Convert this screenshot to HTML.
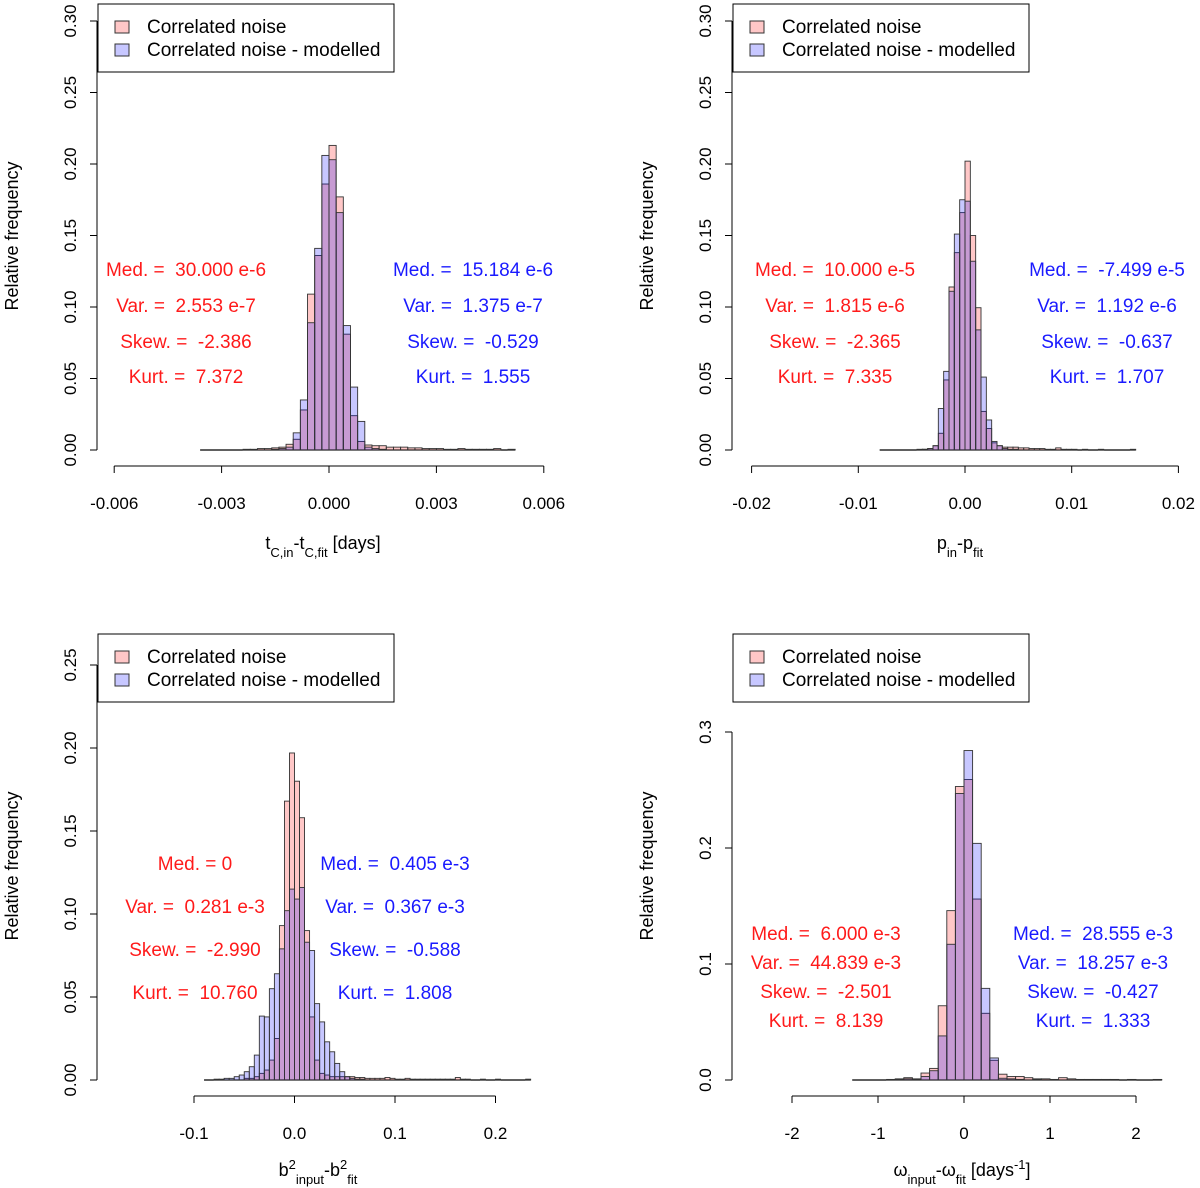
<!DOCTYPE html>
<html><head><meta charset="utf-8"><style>
body{margin:0;background:#fff}
svg{display:block;font-family:"Liberation Sans",Arial,sans-serif}
text{white-space:pre}
</style></head><body>
<svg id="chart" width="1200" height="1188" viewBox="0 0 1200 1188" xmlns="http://www.w3.org/2000/svg"></svg>
<script>
// ---------- data ----------
const p1Start = -0.0036, p1Width = 0.0002;
const p1Red  = [0,0,0,0,0,0,0.0005,0.0005,0.001,0.001,0.0015,0.002,
  0.004,0.0075,0.028,0.109,0.136,0.186,0.213,0.177,0.081,0.024,0.006,0.0035,
  0.003,0.003,0.002,0.002,0.002,0.0015,0.0015,0.001,0.001,0.001,0.0005,0.0005,0.001,0.0005,0.0005,0.0005,0.0005,0.001,0,0.0005];
const p1Blue = [0,0,0,0,0,0,0,0,0,0,0.0005,0.001,
  0.002,0.012,0.035,0.089,0.141,0.206,0.203,0.166,0.087,0.044,0.020,0.002,
  0.001,0.0005,0,0,0,0,0,0,0,0,0,0,0,0,0,0,0,0,0,0];
const p1XTicks = [-0.006,-0.003,0,0.003,0.006];
const p1XLabels = ["-0.006","-0.003","0.000","0.003","0.006"];
const p1YTicks = [0,0.05,0.10,0.15,0.20,0.25,0.30];
const p1YLabels = ["0.00","0.05","0.10","0.15","0.20","0.25","0.30"];

const p2Start = -0.008, p2Width = 0.0005;
const p2Red  = [0,0,0,0,0,0,0,0.0005,0.0005,0.001,
  0.003,0.0117,0.049,0.114,0.138,0.166,0.202,0.150,0.0995,0.027,0.015,0.005,0.003,
  0.002,0.002,0.002,0.0015,0.0015,0.001,0.001,0.001,0.0005,0.0005,0.0015,0.0005,0.0005,0.0005,0,0.0005,0,0,0.0005,0,0,0,0,0,0.0005];
const p2Blue = [0,0,0,0,0,0,0,0,0.0005,0.001,
  0.003,0.029,0.055,0.111,0.151,0.175,0.174,0.132,0.084,0.051,0.021,0.006,0.003,
  0.001,0.0005,0.0005,0,0,0,0,0,0,0,0,0,0,0,0,0,0,0,0,0,0,0,0,0,0];
const p2XTicks = [-0.02,-0.01,0,0.01,0.02];
const p2XLabels = ["-0.02","-0.01","0.00","0.01","0.02"];
const p2YTicks = p1YTicks;
const p2YLabels = p1YLabels;

const p3Start = -0.09, p3Width = 0.005;
const p3Red  = [0,0,0,0,0,0,
  0,0,0.001,0.001,0.002,0.004,0.006,0.012,0.025,0.093,0.168,0.197,0.180,0.158,0.090,0.038,0.012,0.004,0.003,0.002,0.002,0.002,
  0.002,0.002,0.0015,0.0015,0.001,0.001,0.001,0.001,0.0015,0.001,0.0005,0.0005,0.001,0.0005,0.0005,0.0005,0.0005,0.0005,0.0005,0.0005,0.0005,0.0005,0.0015,0.0005,0.0005,0,0,0.0005,0,0,0.0005,0,0,0,0,0,0.0005];
const p3Blue = [0,0,0.0005,0.0005,0.001,0.001,
  0.002,0.003,0.005,0.008,0.015,0.0385,0.038,0.055,0.064,0.079,0.102,0.115,0.109,0.116,0.083,0.078,0.046,0.035,0.023,0.017,0.010,0.005,
  0.002,0.001,0.0005,0.0005,0,0,0,0,0,0,0,0,0,0,0,0,0,0,0,0,0,0,0,0,0,0,0,0,0,0,0,0,0,0,0,0,0];
const p3XTicks = [-0.1,0,0.1,0.2];
const p3XLabels = ["-0.1","0.0","0.1","0.2"];
const p3YTicks = [0,0.05,0.10,0.15,0.20,0.25];
const p3YLabels = ["0.00","0.05","0.10","0.15","0.20","0.25"];

const p4Start = -1.3, p4Width = 0.1;
const p4Red  = [0,0,0,0,0.0005,0.001,0.002,0.001,
  0.006,0.010,0.064,0.146,0.253,0.259,0.156,0.0575,0.017,0.005,0.003,0.003,0.002,
  0.001,0.001,0.0005,0.002,0.001,0.0005,0.0005,0.0005,0.0005,0.0005,0,0.0005,0,0,0.0005];
const p4Blue = [0,0,0,0,0,0.0005,0.001,0.0005,
  0.003,0.008,0.038,0.117,0.247,0.284,0.204,0.079,0.019,0.0015,0.001,0.0005,0,
  0.0005,0,0,0,0,0,0,0,0,0,0,0,0,0,0];
const p4XTicks = [-2,-1,0,1,2];
const p4XLabels = ["-2","-1","0","1","2"];
const p4YTicks = [0,0.1,0.2,0.3];
const p4YLabels = ["0.0","0.1","0.2","0.3"];

const p1StatsRed = ["Med. =  30.000 e-6","Var. =  2.553 e-7","Skew. =  -2.386","Kurt. =  7.372"];
const p1StatsBlue = ["Med. =  15.184 e-6","Var. =  1.375 e-7","Skew. =  -0.529","Kurt. =  1.555"];
const p2StatsRed = ["Med. =  10.000 e-5","Var. =  1.815 e-6","Skew. =  -2.365","Kurt. =  7.335"];
const p2StatsBlue = ["Med. =  -7.499 e-5","Var. =  1.192 e-6","Skew. =  -0.637","Kurt. =  1.707"];
const p3StatsRed = ["Med. = 0","Var. =  0.281 e-3","Skew. =  -2.990","Kurt. =  10.760"];
const p3StatsBlue = ["Med. =  0.405 e-3","Var. =  0.367 e-3","Skew. =  -0.588","Kurt. =  1.808"];
const p4StatsRed = ["Med. =  6.000 e-3","Var. =  44.839 e-3","Skew. =  -2.501","Kurt. =  8.139"];
const p4StatsBlue = ["Med. =  28.555 e-3","Var. =  18.257 e-3","Skew. =  -0.427","Kurt. =  1.333"];

// ---------- drawing ----------
const NS = "http://www.w3.org/2000/svg";
const svg = document.getElementById("chart");
const RED = "rgba(255,0,0,0.22)", BLUE = "rgba(0,0,255,0.22)";
function mk(tag, attrs, parent){
  const e = document.createElementNS(NS, tag);
  for (const k in attrs) e.setAttribute(k, attrs[k]);
  (parent||svg).appendChild(e);
  return e;
}

const panels = [
 {id:"p1", start:p1Start, w:p1Width, red:p1Red, blue:p1Blue, xt:p1XTicks, xl:p1XLabels, yt:p1YTicks, yl:p1YLabels,
  x0:329, kx:35800, y0:450, ky:1430, ax:97, axY:466, lx:98, ly:4, sr:p1StatsRed, sb:p1StatsBlue,
  srx:186, sbx:473, sy:[270,306,342,377], title:'t<tspan baseline-shift="sub" font-size="13">C,in</tspan>-t<tspan baseline-shift="sub" font-size="13">C,fit</tspan> [days]', tx:323, ty:549, ytc:236},
 {id:"p2", start:p2Start, w:p2Width, red:p2Red, blue:p2Blue, xt:p2XTicks, xl:p2XLabels, yt:p2YTicks, yl:p2YLabels,
  x0:965, kx:10670, y0:450, ky:1430, ax:732, axY:466, lx:733, ly:4, sr:p2StatsRed, sb:p2StatsBlue,
  srx:835, sbx:1107, sy:[270,306,342,377], title:'p<tspan baseline-shift="sub" font-size="13">in</tspan>-p<tspan baseline-shift="sub" font-size="13">fit</tspan>', tx:960, ty:549, ytc:236},
 {id:"p3", start:p3Start, w:p3Width, red:p3Red, blue:p3Blue, xt:p3XTicks, xl:p3XLabels, yt:p3YTicks, yl:p3YLabels,
  x0:294.5, kx:1005, y0:1080, ky:1660, ax:97, axY:1096, lx:98, ly:634, sr:p3StatsRed, sb:p3StatsBlue,
  srx:195, sbx:395, sy:[864,907,950,993], title:'b<tspan baseline-shift="super" font-size="13">2</tspan><tspan baseline-shift="sub" font-size="13">input</tspan>-b<tspan baseline-shift="super" font-size="13">2</tspan><tspan baseline-shift="sub" font-size="13">fit</tspan>', tx:318, ty:1176, ytc:866},
 {id:"p4", start:p4Start, w:p4Width, red:p4Red, blue:p4Blue, xt:p4XTicks, xl:p4XLabels, yt:p4YTicks, yl:p4YLabels,
  x0:964, kx:86, y0:1080, ky:1160, ax:732, axY:1096, lx:733, ly:634, sr:p4StatsRed, sb:p4StatsBlue,
  srx:826, sbx:1093, sy:[934,963,992,1021], title:'ω<tspan baseline-shift="sub" font-size="13">input</tspan>-ω<tspan baseline-shift="sub" font-size="13">fit</tspan> [days<tspan baseline-shift="super" font-size="13">-1</tspan>]', tx:962, ty:1176, ytc:866}
];

panels.forEach(p => {
  const g = mk("g", {});
  
  
  const X = v => p.x0 + v * p.kx;
  const Y = v => p.y0 - v * p.ky;
  const n = p.red.length;
  const bl = mk("line", {x1:X(p.start), x2:X(p.start + n*p.w), y1:p.y0, y2:p.y0, stroke:"#000", "stroke-width":1.2}, g);
  
  
  [[p.red, RED, "red"], [p.blue, BLUE, "blue"]].forEach(([arr, col, nm]) => {
    arr.forEach((v, i) => {
      if (v <= 0) return;
      const x1 = X(p.start + i*p.w), x2 = X(p.start + (i+1)*p.w);
      const r = mk("rect", {x:x1, y:Y(v), width:x2-x1, height:p.y0-Y(v), fill:col, stroke:"#333", "stroke-width":0.9}, g);
      
      
    });
  });
  const xa = mk("line", {x1:X(p.xt[0]), x2:X(p.xt[p.xt.length-1]), y1:p.axY, y2:p.axY, stroke:"#000", "stroke-width":1}, g);
  
  
  p.xt.forEach((t, i) => {
    mk("line", {x1:X(t), x2:X(t), y1:p.axY, y2:p.axY+7, stroke:"#000"}, g);
    const tl = mk("text", {x:X(t), y:p.axY+43, "text-anchor":"middle", "font-size":17}, g);
    tl.textContent = p.xl[i];
    
    
  });
  const ya = mk("line", {x1:p.ax, x2:p.ax, y1:Y(p.yt[0]), y2:Y(p.yt[p.yt.length-1]), stroke:"#000", "stroke-width":1}, g);
  
  
  p.yt.forEach((t, i) => {
    mk("line", {x1:p.ax-7, x2:p.ax, y1:Y(t), y2:Y(t), stroke:"#000"}, g);
    const tl = mk("text", {x:0, y:0, "text-anchor":"middle", "font-size":17,
      transform:`translate(${p.ax-21},${Y(t)}) rotate(-90)`}, g);
    tl.textContent = p.yl[i];
    
    
  });
  const yt = mk("text", {x:0, y:0, "text-anchor":"middle", "font-size":18,
    transform:`translate(${p.ax-79},${p.ytc}) rotate(-90)`}, g);
  yt.textContent = "Relative frequency";
  
  
  const xt = mk("text", {x:p.tx, y:p.ty, "text-anchor":"middle", "font-size":18}, g);
  xt.innerHTML = p.title;
  
  
  const lg = mk("g", {}, g);
  
  
  mk("rect", {x:p.lx, y:p.ly, width:296, height:68, fill:"#fff", stroke:"#000", "stroke-width":1}, lg);
  [["Correlated noise", RED, 0], ["Correlated noise - modelled", BLUE, 23]].forEach(([lab, col, dy]) => {
    const s = mk("rect", {x:p.lx+17, y:p.ly+17+dy, width:14, height:12, fill:col, stroke:"#333", "stroke-width":1}, lg);
    
    
    const t = mk("text", {x:p.lx+49, y:p.ly+29+dy, "font-size":19}, lg);
    t.textContent = lab;
    
    
  });
  p.sr.forEach((s, i) => {
    const t = mk("text", {x:p.srx, y:p.sy[i]+6, "text-anchor":"middle", "font-size":19, fill:"#ff1a1a"}, g);
    t.textContent = s;
    
    
  });
  p.sb.forEach((s, i) => {
    const t = mk("text", {x:p.sbx, y:p.sy[i]+6, "text-anchor":"middle", "font-size":19, fill:"#1a1aff"}, g);
    t.textContent = s;
    
    
  });
});
</script>
</body></html>
